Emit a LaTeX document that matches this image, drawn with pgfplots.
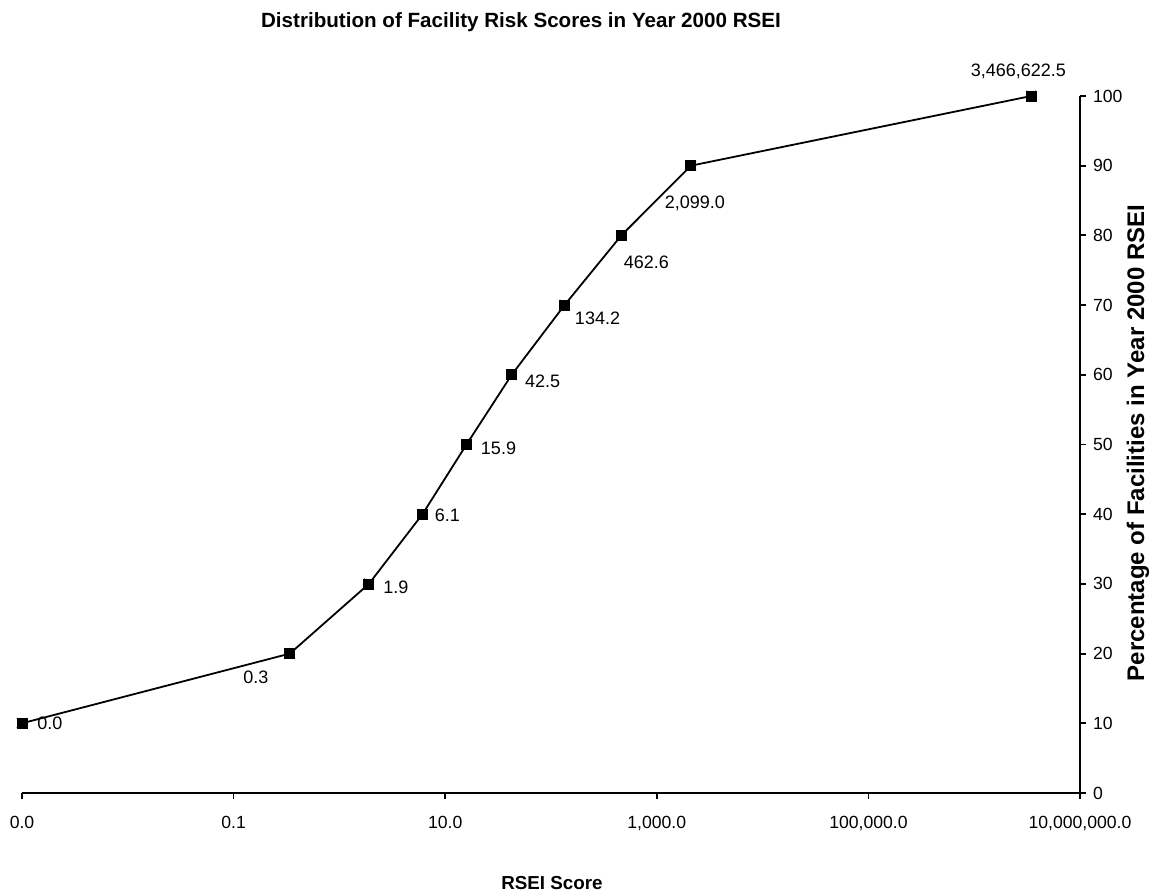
\documentclass[border=0pt]{standalone}
\usepackage{pgfplots}
\pgfplotsset{compat=1.18}
\usepackage{fontspec}
\setmainfont{Liberation Sans}
\begin{document}
\begin{tikzpicture}
\useasboundingbox (-11pt,-50.5pt) rectangle (566.5pt,396.5pt);
\begin{axis}[
  at={(0,0)}, anchor=south west,
  scale only axis, width=529pt, height=348.5pt,
  xmode=log, log basis x=10,
  xmin=0.001, xmax=1e7, ymin=0, ymax=100,
  axis x line=bottom, axis y line=right,
  axis line style={-, line width=0.9pt, black},
  tick align=outside, major tick length=3pt,
  tick style={line width=0.9pt, black},
  xtick={0.001,0.1,10,1000,100000,10000000},
  xticklabels={0.0,0.1,10.0,{1,000.0},{100,000.0},{10,000,000.0}},
  minor xtick={}, 
  ytick={0,10,...,100},
  /pgf/number format/assume math mode=true,
  ticklabel style={font=\fontsize{8.8}{10}\selectfont},
  xticklabel style={yshift=-5pt},
  clip=false,
]
\addplot[black, line width=0.9pt, mark=x, mark size=3.5pt, mark options={line width=0.8pt}] coordinates {
(0.001,10) (0.34,20) (1.9,30) (6.1,40) (15.9,50) (42.5,60) (134.2,70) (462.6,80) (2099.0,90) (3466622.5,100)
};
\addplot[only marks, black, mark=square*, mark size=2.5pt] coordinates {
(0.001,10) (0.34,20) (1.9,30) (6.1,40) (15.9,50) (42.5,60) (134.2,70) (462.6,80) (2099.0,90) (3466622.5,100)
};
\begin{scope}[every node/.style={font=\fontsize{9}{11}\selectfont, anchor=center}]
\node[xshift=14pt] at (axis cs:0.001,10) {0.0};
\node[xshift=-17pt, yshift=-12pt] at (axis cs:0.34,20) {0.3};
\node[xshift=13.5pt, yshift=-1.5pt] at (axis cs:1.9,30) {1.9};
\node[xshift=12.5pt, yshift=-0.5pt] at (axis cs:6.1,40) {6.1};
\node[xshift=16pt, yshift=-2pt] at (axis cs:15.9,50) {15.9};
\node[xshift=15.5pt, yshift=-3.5pt] at (axis cs:42.5,60) {42.5};
\node[xshift=16.5pt, yshift=-6.5pt] at (axis cs:134.2,70) {134.2};
\node[xshift=12.5pt, yshift=-13.5pt] at (axis cs:462.6,80) {462.6};
\node[xshift=2pt, yshift=-19pt] at (axis cs:2099.0,90) {2,099.0};
\node[xshift=-6.5pt, yshift=12.5pt] at (axis cs:3466622.5,100) {3,466,622.5};
\end{scope}
\end{axis}
\node[font=\bfseries\fontsize{10.3}{12}\selectfont] at (249.5pt,385.5pt) {Distribution of Facility Risk Scores in Year 2000 RSEI};
\node[font=\bfseries\fontsize{9.4}{11}\selectfont] at (265pt,-45pt) {RSEI Score};
\node[font=\bfseries\fontsize{12}{14}\selectfont, rotate=90] at (558pt,175pt) {Percentage of Facilities in Year 2000 RSEI};
\end{tikzpicture}
\end{document}
